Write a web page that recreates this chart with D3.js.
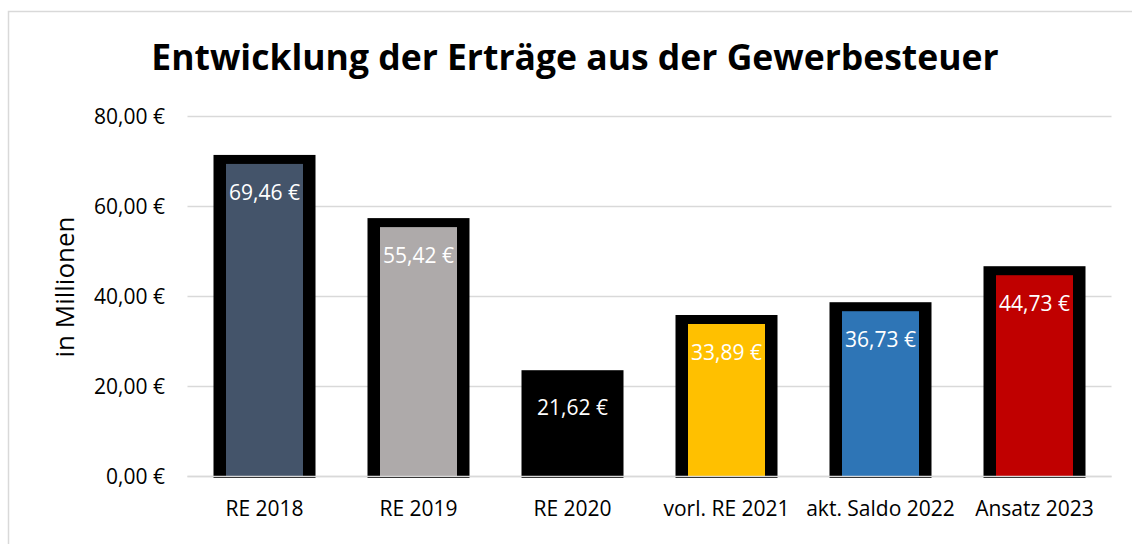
<!DOCTYPE html>
<html>
<head>
<meta charset="utf-8">
<script src="https://cdn.jsdelivr.net/npm/d3@7"></script>
<style>
  body { margin: 0; background: #fff; }
  svg { display: block; font-family: "Open Sans", sans-serif; }
</style>
</head>
<body>
<svg id="chart" width="1132" height="544"></svg>
<script>
// data
const categories = ['RE 2018', 'RE 2019', 'RE 2020', 'vorl. RE 2021', 'akt. Saldo 2022', 'Ansatz 2023'];
const values = [69.46, 55.42, 21.62, 33.89, 36.73, 44.73];
const colors = ['#44546a', '#aeaaaa', '#000000', '#ffc000', '#2e75b6', '#c00000'];
const yTicks = [0, 20, 40, 60, 80];

const euro = v => v.toFixed(2).replace('.', ',') + ' €';

const svg = d3.select('#chart');

// chart frame
svg.append('rect')
    .attr('x', 8.5).attr('y', 11.5)
    .attr('width', 1140).attr('height', 560)
    .attr('fill', 'none')
    .attr('stroke', '#d9d9d9')
    .attr('stroke-width', 1.5);

const x = d3.scaleBand()
    .domain(categories)
    .range([187.5, 1111.5])
    .paddingInner(0.5)
    .paddingOuter(0.25);

const y = d3.scaleLinear()
    .domain([0, 80])
    .range([476.5, 116.5]);

// gridlines
svg.append('g')
    .selectAll('line')
    .data(yTicks)
    .enter()
    .append('line')
    .attr('x1', 187.5).attr('x2', 1111.5)
    .attr('y1', d => y(d)).attr('y2', d => y(d))
    .attr('stroke', '#d9d9d9')
    .attr('stroke-width', 1.5);

// y tick labels
svg.append('g')
    .selectAll('text')
    .data(yTicks)
    .enter()
    .append('text')
    .attr('x', 165)
    .attr('y', d => y(d) + 7.5)
    .attr('text-anchor', 'end')
    .attr('font-size', 21)
    .attr('fill', '#000')
    .text(d => euro(d));

// bars: thick black border outside the fill
const bars = svg.append('g')
    .selectAll('g')
    .data(values)
    .enter()
    .append('g');

bars.append('rect')
    .attr('x', (d, i) => x(categories[i]) - 12.5)
    .attr('y', d => y(d) - 9)
    .attr('width', x.bandwidth() + 25)
    .attr('height', d => y(0) - y(d) + 10.5)
    .attr('fill', '#000');

bars.append('rect')
    .attr('x', (d, i) => x(categories[i]))
    .attr('y', d => y(d))
    .attr('width', x.bandwidth())
    .attr('height', d => y(0) - y(d))
    .attr('fill', (d, i) => colors[i]);

bars.append('text')
    .attr('x', (d, i) => x(categories[i]) + x.bandwidth() / 2)
    .attr('y', d => y(d) + 36)
    .attr('text-anchor', 'middle')
    .attr('font-size', 21)
    .attr('fill', '#fff')
    .text(d => euro(d));

// baseline over the bars
svg.append('line')
    .attr('x1', 187.5).attr('x2', 1111.5)
    .attr('y1', y(0)).attr('y2', y(0))
    .attr('stroke', '#d9d9d9')
    .attr('stroke-width', 1.5);

// category labels
svg.append('g')
    .selectAll('text')
    .data(categories)
    .enter()
    .append('text')
    .attr('x', d => x(d) + x.bandwidth() / 2)
    .attr('y', 515.5)
    .attr('text-anchor', 'middle')
    .attr('font-size', 21)
    .attr('fill', '#000')
    .text(d => d);

// axis title
svg.append('text')
    .attr('transform', 'translate(74,287) rotate(-90)')
    .attr('text-anchor', 'middle')
    .attr('font-size', 26)
    .attr('fill', '#000')
    .text('in Millionen');

// title
svg.append('text')
    .attr('x', 575)
    .attr('y', 70)
    .attr('text-anchor', 'middle')
    .attr('font-size', 35.5)
    .attr('font-weight', 'bold')
    .attr('fill', '#000')
    .text('Entwicklung der Erträge aus der Gewerbesteuer');
</script>
</body>
</html>
